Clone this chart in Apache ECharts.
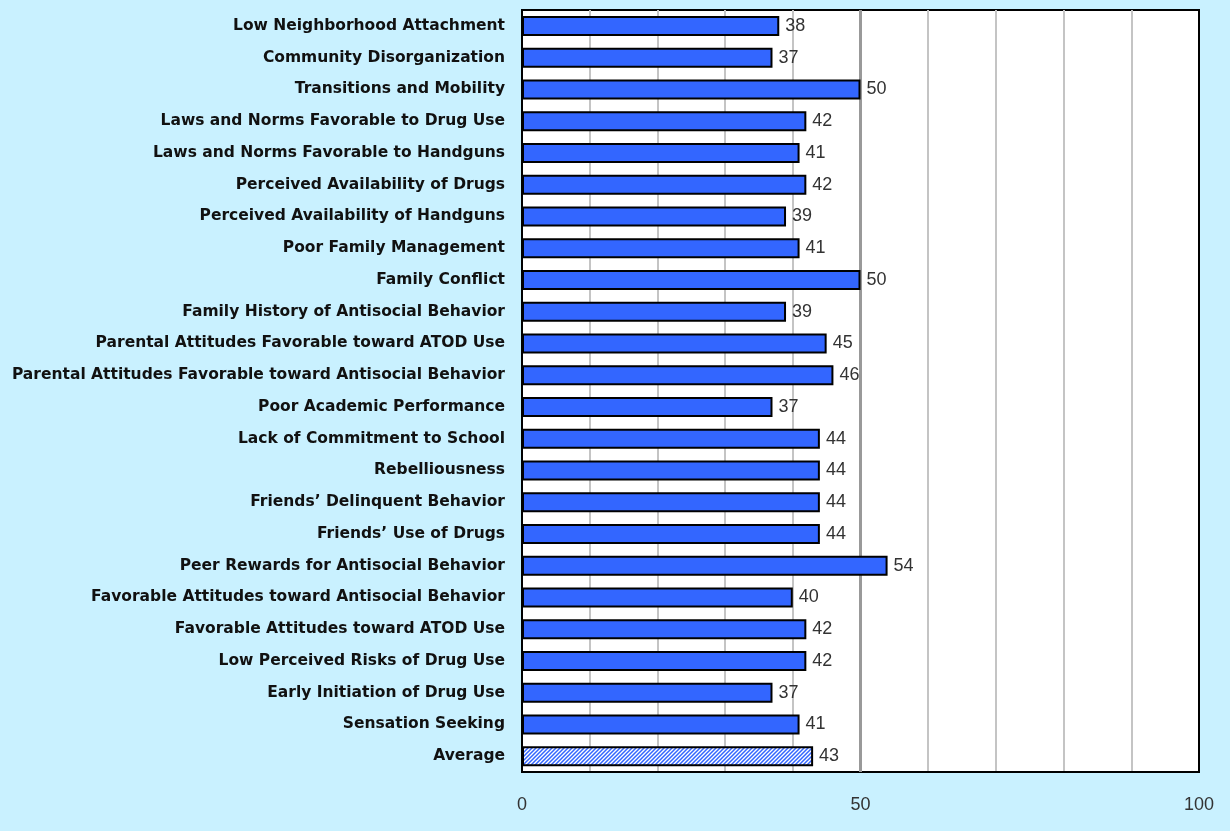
<!DOCTYPE html>
<html>
<head>
<meta charset="utf-8">
<script src="https://cdn.jsdelivr.net/npm/echarts@6/dist/echarts.min.js"></script>
<style>
  html, body { margin: 0; padding: 0; background: #c9f1ff; }
  #chart { width: 1230px; height: 831px; }
</style>
</head>
<body>
<div id="chart"></div>
<script>
// risk factor names, top to bottom
var categories = [
  'Low Neighborhood Attachment',
  'Community Disorganization',
  'Transitions and Mobility',
  'Laws and Norms Favorable to Drug Use',
  'Laws and Norms Favorable to Handguns',
  'Perceived Availability of Drugs',
  'Perceived Availability of Handguns',
  'Poor Family Management',
  'Family Conflict',
  'Family History of Antisocial Behavior',
  'Parental Attitudes Favorable toward ATOD Use',
  'Parental Attitudes Favorable toward Antisocial Behavior',
  'Poor Academic Performance',
  'Lack of Commitment to School',
  'Rebelliousness',
  'Friends\u2019 Delinquent Behavior',
  'Friends\u2019 Use of Drugs',
  'Peer Rewards for Antisocial Behavior',
  'Favorable Attitudes toward Antisocial Behavior',
  'Favorable Attitudes toward ATOD Use',
  'Low Perceived Risks of Drug Use',
  'Early Initiation of Drug Use',
  'Sensation Seeking',
  'Average'
];
// percentages
var values = [38, 37, 50, 42, 41, 42, 39, 41, 50, 39, 45, 46, 37, 44, 44, 44, 44, 54, 40, 42, 42, 37, 41, 43];
var xLabels = [0, 50, 100];

// hatch pattern for the average bar
function makeHatch() {
  var c = document.createElement('canvas');
  c.width = 4; c.height = 4;
  var ctx = c.getContext('2d');
  ctx.fillStyle = '#ffffff';
  ctx.fillRect(0, 0, 4, 4);
  ctx.strokeStyle = '#3366ff';
  ctx.lineWidth = 1.5;
  ctx.beginPath();
  ctx.moveTo(0, 4); ctx.lineTo(4, 0);
  ctx.moveTo(-1, 1); ctx.lineTo(1, -1);
  ctx.moveTo(3, 5); ctx.lineTo(5, 3);
  ctx.stroke();
  return c;
}
var hatch = { image: makeHatch(), repeat: 'repeat' };

var barData = values.map(function (v, i) {
  if (categories[i] == 'Average') {
    return { value: v, itemStyle: { color: hatch } };
  }
  return v;
});

var myChart = echarts.init(document.getElementById('chart'));
myChart.setOption({
  backgroundColor: '#c9f1ff',
  animation: false,
  grid: {
    left: 522, right: 31, top: 10, bottom: 59,
    show: true, backgroundColor: '#ffffff', borderColor: '#000', borderWidth: 2
  },
  xAxis: {
    type: 'value',
    min: 0, max: 100, interval: 10,
    axisLine: { show: true, lineStyle: { color: '#000', width: 2 } },
    axisTick: { show: false },
    axisLabel: {
      margin: 24, fontSize: 18, color: '#333', fontFamily: 'Liberation Sans',
      formatter: function (v) { return xLabels.indexOf(v) >= 0 ? v : ''; }
    },
    splitLine: { show: true, showMinLine: false, showMaxLine: false, lineStyle: { color: '#c4c4c4', width: 2 } }
  },
  yAxis: {
    type: 'category',
    data: categories,
    inverse: true,
    axisLine: { show: true, lineStyle: { color: '#000', width: 2 } },
    axisTick: { show: false },
    axisLabel: {
      margin: 17, fontSize: 15.5, fontWeight: 'bold', color: '#111', fontFamily: 'DejaVu Sans'
    }
  },
  series: [{
    type: 'bar',
    data: barData,
    barWidth: 20,
    itemStyle: { color: '#3366ff', borderColor: '#000', borderWidth: 2 },
    label: {
      show: true, position: 'right', distance: 6,
      fontSize: 18, color: '#333', fontFamily: 'Liberation Sans'
    },
    markLine: {
      silent: true, symbol: 'none', z: 1,
      label: { show: false },
      lineStyle: { color: '#999', width: 3, type: 'solid' },
      data: [{ xAxis: 50 }]
    }
  }]
});
</script>
</body>
</html>
